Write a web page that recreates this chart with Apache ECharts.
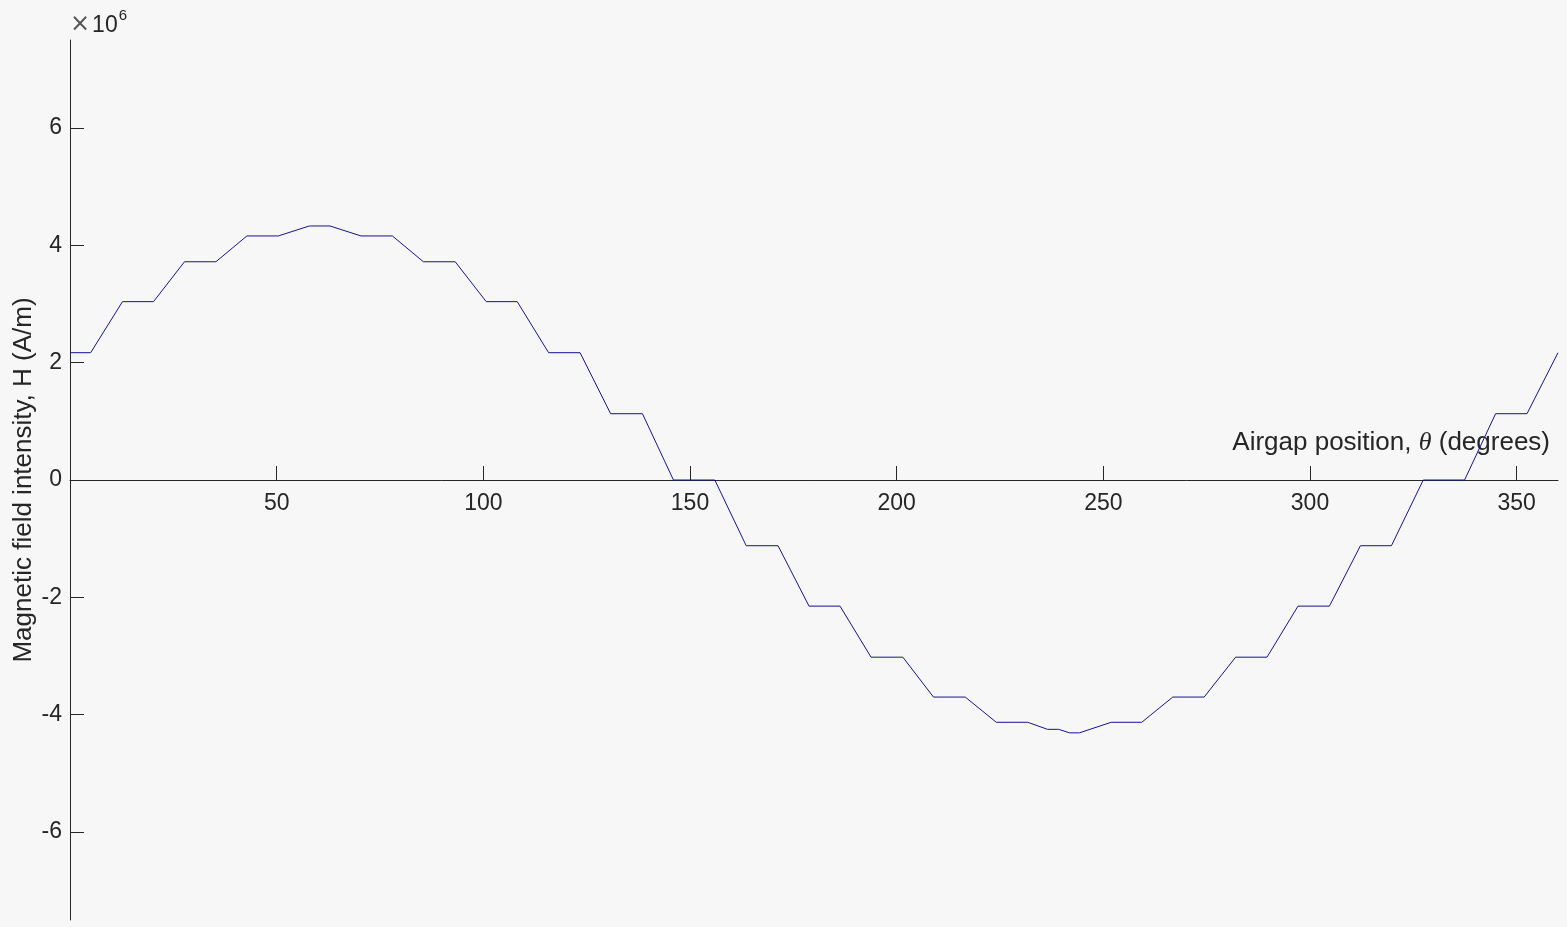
<!DOCTYPE html>
<html>
<head>
<meta charset="utf-8">
<script src="https://cdn.jsdelivr.net/npm/echarts@6/dist/echarts.min.js"></script>
<style>
html,body{margin:0;padding:0;background:#f7f7f7;}
#chart{width:1567px;height:927px;}
</style>
</head>
<body>
<div id="chart"></div>
<script>
// Airgap position (degrees)
const thetaDeg = [0, 5.0, 12.7, 20.2, 27.7, 35.3, 42.8, 50.4, 57.9, 62.9, 70.4, 78.0, 85.5, 93.2, 100.7, 108.2, 115.8, 123.4, 130.8, 138.5, 146.0, 156.0, 163.6, 171.3, 178.8, 186.3, 193.8, 201.5, 208.9, 216.6, 224.1, 231.7, 236.5, 239.2, 241.8, 244.2, 251.9, 259.3, 266.8, 274.4, 282.0, 289.6, 297.1, 304.7, 312.2, 319.7, 327.4, 337.4, 344.9, 352.5, 360];
// Magnetic field intensity H (x10^6 A/m)
const fieldH = [2.17, 2.17, 3.04, 3.04, 3.72, 3.72, 4.16, 4.16, 4.33, 4.33, 4.16, 4.16, 3.72, 3.72, 3.04, 3.04, 2.17, 2.17, 1.13, 1.13, 0, 0, -1.12, -1.12, -2.15, -2.15, -3.02, -3.02, -3.70, -3.70, -4.13, -4.13, -4.25, -4.25, -4.31, -4.31, -4.13, -4.13, -3.70, -3.70, -3.02, -3.02, -2.15, -2.15, -1.12, -1.12, 0, 0, 1.13, 1.13, 2.17];
const xTicks = [50, 100, 150, 200, 250, 300, 350];
const yTicks = [-6, -4, -2, 0, 2, 4, 6];

const textColor = '#262626';
const fontFam = '"Liberation Sans", Arial, Helvetica, sans-serif';

const chart = echarts.init(document.getElementById('chart'));
chart.setOption({
  backgroundColor: '#f7f7f7',
  animation: false,
  grid: {left: 70, right: 9, top: 40, bottom: 7, containLabel: false, outerBoundsMode: 'none'},
  xAxis: {
    type: 'value', min: 0, max: 360, position: 'bottom', offset: -440,
    axisLine: {onZero: false, lineStyle: {color: textColor, width: 1}},
    axisTick: {inside: true, length: 14, customValues: xTicks, lineStyle: {color: textColor}},
    axisLabel: {customValues: xTicks, margin: 12, color: textColor, fontSize: 23, fontFamily: fontFam},
    splitLine: {show: false}
  },
  yAxis: {
    type: 'value', min: -7.5, max: 7.5,
    axisLine: {show: true, onZero: false, lineStyle: {color: textColor, width: 1}},
    axisTick: {show: true, inside: true, length: 14, customValues: yTicks, lineStyle: {color: textColor}},
    axisLabel: {customValues: yTicks, margin: 8, color: textColor, fontSize: 23, fontFamily: fontFam},
    splitLine: {show: false}
  },
  graphic: [
    {
      type: 'text', x: 1550, y: 443,
      style: {
        text: 'Airgap position, {th|θ} (degrees)',
        fill: textColor, fontSize: 26, fontFamily: fontFam,
        align: 'right', verticalAlign: 'middle',
        rich: {th: {fontStyle: 'italic', fontFamily: '"Liberation Serif", "DejaVu Serif", serif', fontSize: 26, fill: textColor}}
      }
    },
    {
      type: 'text', x: 24, y: 480, rotation: Math.PI / 2,
      style: {
        text: 'Magnetic field intensity, H (A/m)',
        fill: textColor, fontSize: 26, fontFamily: fontFam,
        align: 'center', verticalAlign: 'middle'
      }
    },
    {
      type: 'text', left: 70, top: 8,
      style: {
        text: '{x|×}{n|10}{s|6}',
        fill: textColor, fontFamily: fontFam,
        rich: {
          x: {fontSize: 24, fill: '#555555', fontFamily: '"DejaVu Sans", sans-serif', verticalAlign: 'bottom', padding: [0, 2, 0, 0]},
          n: {fontSize: 23, fill: textColor, fontFamily: fontFam, verticalAlign: 'bottom'},
          s: {fontSize: 15, fill: textColor, fontFamily: fontFam, verticalAlign: 'top', padding: [0, 0, 14, 1]}
        }
      }
    }
  ],
  series: [{
    type: 'line',
    data: thetaDeg.map((t, i) => [t, fieldH[i]]),
    showSymbol: false,
    symbol: 'none',
    lineStyle: {color: '#14148f', width: 1},
    z: 1
  }]
});
</script>
</body>
</html>
